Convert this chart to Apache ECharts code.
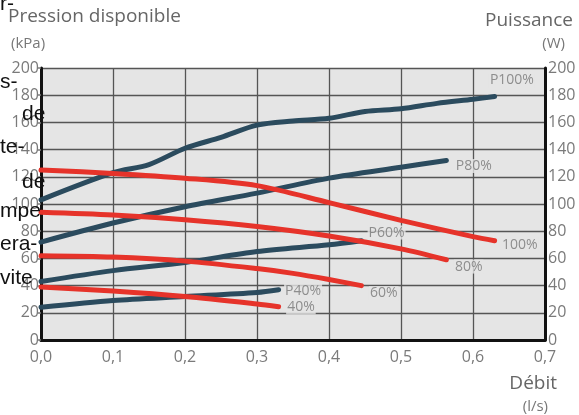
<!DOCTYPE html>
<html>
<head>
<meta charset="utf-8">
<script src="https://cdn.jsdelivr.net/npm/echarts@6/dist/echarts.min.js"></script>
<style>
  html, body { margin: 0; padding: 0; background: #fff; }
  #chart { width: 579px; height: 415px; }
</style>
</head>
<body>
<div id="chart"></div>
<script>
// pump curves: [débit l/s, value]
const p100 = [[0, 103], [0.1, 123], [0.15, 129], [0.2, 141], [0.25, 149], [0.3, 158], [0.35, 161], [0.4, 163], [0.45, 168], [0.5, 170], [0.55, 174], [0.6, 177], [0.63, 179]];
const p80 = [[0, 72], [0.1, 86], [0.2, 98], [0.3, 108], [0.4, 119], [0.5, 127], [0.563, 132]];
const p60 = [[0, 43], [0.1, 51], [0.2, 57], [0.3, 65], [0.4, 70], [0.445, 73]];
const p40 = [[0, 24], [0.1, 29], [0.2, 32], [0.3, 35], [0.33, 37]];
const h100 = [[0, 125], [0.1, 122.5], [0.2, 119], [0.3, 113.5], [0.4, 101], [0.5, 88], [0.6, 76], [0.63, 73]];
const h80 = [[0, 94], [0.1, 92], [0.2, 88.5], [0.3, 83.5], [0.4, 76.5], [0.5, 67], [0.563, 59]];
const h60 = [[0, 62], [0.1, 61], [0.2, 58], [0.3, 52.5], [0.35, 49], [0.4, 44.5], [0.445, 40]];
const h40 = [[0, 39], [0.1, 36], [0.2, 32], [0.3, 26.5], [0.33, 24.5]];
const curveLabels = [
  ['P100%', 0.654, 191], ['P80%', 0.601, 128], ['P60%', 0.48, 79], ['P40%', 0.364, 36],
  ['100%', 0.665, 70], ['80%', 0.594, 54], ['60%', 0.476, 34.5], ['40%', 0.361, 24]
];
const yTicks = [0, 200, 20];
const xTicks = [0, 0.7, 0.1];

const blue = '#2b4b5e';
const red = '#e6332a';
const font = 'Open Sans';

function curve(data, color) {
  return {
    type: 'line', data: data, smooth: 0.3, symbol: 'none',
    lineStyle: { color: color, width: 5, cap: 'round' }, z: 3
  };
}

const strayText = [
  ['r-', 0, 6], ['s-', 0, 84], ['de', 22, 116], ['te-', 0, 149], ['de', 22, 184],
  ['mpe', 0, 213], ['era-', 0, 246], ['vite', 0, 280]
];

const chart = echarts.init(document.getElementById('chart'));
chart.setOption({
  animation: false,
  textStyle: { fontFamily: font },
  grid: {
    left: 41, right: 34, top: 68, bottom: 75, show: true,
    backgroundColor: '#e5e5e5', borderWidth: 0
  },
  xAxis: {
    type: 'value', min: xTicks[0], max: xTicks[1], interval: xTicks[2],
    axisLine: { show: true, lineStyle: { color: '#111', width: 3 } },
    axisTick: { show: false },
    axisLabel: {
      color: '#7a7a7a', fontSize: 16, margin: 9,
      formatter: v => v.toFixed(1).replace('.', ',')
    },
    splitLine: { show: true, lineStyle: { color: '#555', width: 1.3 } }
  },
  yAxis: [0, 1].map(i => ({
    type: 'value', min: yTicks[0], max: yTicks[1], interval: yTicks[2],
    position: i ? 'right' : 'left',
    axisLine: { show: true, lineStyle: { color: '#111', width: 3 } },
    axisTick: { show: i === 0, length: 4, lineStyle: { color: '#7a7a7a', width: 1.5 } },
    axisLabel: { color: '#7a7a7a', fontSize: 16, margin: i ? 3 : 2 },
    splitLine: { show: i === 0, lineStyle: { color: '#555', width: 1.3 } }
  })),
  series: [
    curve(p100, blue), curve(p80, blue), curve(p60, blue), curve(p40, blue),
    curve(h100, red), curve(h80, red), curve(h60, red), curve(h40, red),
    {
      type: 'scatter', symbolSize: 0, z: 4,
      data: curveLabels.map(d => ({ name: d[0], value: [d[1], d[2]] })),
      label: {
        show: true, position: 'inside', formatter: '{b}',
        color: '#777', fontSize: 14, backgroundColor: '#e5e5e5', padding: [0, 1]
      }
    }
  ],
  graphic: [
    { type: 'text', left: 8, top: 7, style: { text: 'Pression disponible', fontSize: 19, fill: '#666', fontFamily: font } },
    { type: 'text', left: 11, top: 36, style: { text: '(kPa)', fontSize: 15, fill: '#777', fontFamily: font } },
    { type: 'text', right: 14, top: 36, style: { text: '(W)', fontSize: 15, fill: '#777', fontFamily: font } },
    { type: 'text', right: 6, top: 11, style: { text: 'Puissance', fontSize: 19, fill: '#666', fontFamily: font } },
    { type: 'text', right: 22, top: 374, style: { text: 'Débit', fontSize: 19, fill: '#666', fontFamily: font } },
    { type: 'text', right: 31, top: 399, style: { text: '(l/s)', fontSize: 15, fill: '#777', fontFamily: font } }
  ].concat(strayText.map(s => ({
    type: 'text', left: s[1], top: s[2] - 12, z: 10,
    style: { text: s[0], fontSize: 21, fill: '#111', fontFamily: 'Liberation Sans' }
  })))
});
</script>
</body>
</html>
